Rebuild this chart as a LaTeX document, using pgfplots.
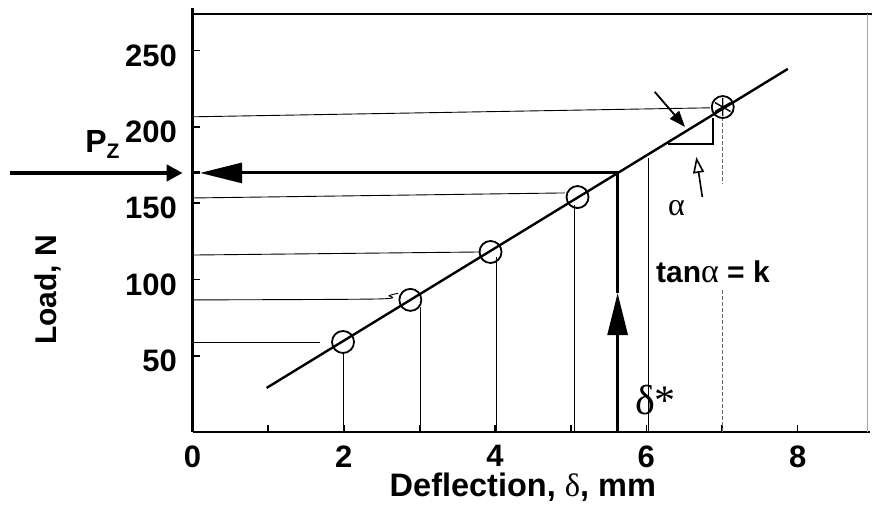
\documentclass[border=0pt]{standalone}
\usepackage{pgfplots}
\pgfplotsset{compat=1.18}
\usepackage{fontspec}
\setmainfont{Liberation Sans}
\newfontfamily\grk{Liberation Serif}
\usetikzlibrary{arrows.meta,calc}
\begin{document}
\begin{tikzpicture}
\begin{axis}[
 scale only axis, width=677pt, height=418pt,
 xmin=0, xmax=8.95, ymin=0, ymax=274,
 axis x line*=bottom, axis y line*=left,
 axis line style={line width=2.4pt, -},
 xtick={0,2,4,6,8}, extra x ticks={1,3,5,7}, extra x tick labels={},
 ytick={50,100,150,200,250},
 tick align=inside, major tick length=7pt,
 tick style={line width=1.6pt, black},
 /pgf/number format/assume math mode=true,
 ticklabel style={font=\fontsize{31}{31}\selectfont\bfseries},
 xticklabel style={yshift=-10pt},
 yticklabel style={xshift=-12pt, yshift=-5pt},
 clip=false,
 xlabel={Deflection, {\grk\mdseries δ}, mm},
 ylabel={Load, N},
 label style={font=\fontsize{30}{30}\selectfont\bfseries},
 xlabel style={font=\fontsize{32.5}{32.5}\selectfont\bfseries, at={(axis description cs:0.488,-0.132)}, anchor=center},
 ylabel style={at={(axis description cs:-0.2135,0.34)}, anchor=center},
]
\coordinate (O) at (rel axis cs:0,0);
% frame top and right
\draw[line width=2.4pt] (rel axis cs:0,1.015) -- (rel axis cs:0,1) -- (rel axis cs:1.003,1);
\draw[line width=1pt, black!35] (rel axis cs:0.997,1) -- (rel axis cs:0.997,0);

% horizontal thin lines from the load axis
\addplot[line width=0.9pt, black] coordinates {(0,58.4) (1.68,58.4)};
\addplot[line width=0.9pt, black, smooth] coordinates {(0,86.6) (2.45,87.2) (2.6,89.5) (2.72,91)};
\addplot[line width=0.9pt, black] coordinates {(0,116) (3.8,118)};
\addplot[line width=0.9pt, black] coordinates {(0,153.4) (4.92,156.7)};
\addplot[line width=0.9pt, black] coordinates {(0,206.6) (6.84,212.5)};

% vertical thin lines to the deflection axis
\addplot[line width=0.9pt, black] coordinates {(1.99,52.5) (1.99,0)};
\addplot[line width=0.9pt, black] coordinates {(3.02,82) (3.02,0)};
\addplot[line width=0.9pt, black] coordinates {(4.02,114.8) (4.02,0)};
\addplot[line width=0.9pt, black] coordinates {(5.05,148.9) (5.05,0)};
\addplot[line width=0.9pt, black] coordinates {(6.03,179.7) (6.03,0)};
\addplot[line width=0.8pt, black!60, dash pattern=on 4pt off 2pt] coordinates {(7.01,206.6) (7.01,163)};
\addplot[line width=0.8pt, black!60, dash pattern=on 4pt off 2pt] coordinates {(7.01,93) (7.01,0)};

% fitted line
\addplot[line width=2.4pt, black] coordinates {(0.98,28.9) (7.87,238)};

% slope triangle
\addplot[line width=1.6pt, black] coordinates {(6.28,188.9) (6.88,188.9) (6.88,205.9)};
\addplot[line width=1.8pt, black, -{Triangle[length=16pt,width=12pt]}] coordinates {(6.11,223) (6.51,200)};
\addplot[line width=1.6pt, black, -{Triangle[open,length=16pt,width=11pt]}] coordinates {(6.74,154) (6.66,180.3)};

% P_z construction
\addplot[line width=3pt, black, -{Triangle[length=42pt,width=20pt]}] coordinates {(5.62,169.8) (0.1,169.8)};
\addplot[line width=3pt, black] coordinates {(0,169.8) (0.1,169.8)};
\addplot[line width=3pt, black, -{Triangle[length=42pt,width=20pt]}] coordinates {(5.62,0) (5.62,91)};
\addplot[line width=3pt, black] coordinates {(5.62,91) (5.62,169.8)};
\addplot[line width=4.5pt, black, -{Triangle[length=16pt,width=16pt]}] coordinates {(-2.41,169.8) (-0.13,169.8)};

% measured points
\addplot[only marks, mark=o, mark size=11pt, mark options={line width=1.8pt}] coordinates {
(1.99,59.0) (2.88,86.6) (3.94,118) (5.09,154) (7.01,213)};
\addplot[only marks, mark=asterisk, mark size=9pt, mark options={line width=1.4pt}] coordinates {(7.01,213)};

% annotations
\node[font=\fontsize{32}{32}\selectfont\bfseries, anchor=base west, inner sep=0pt] at (axis cs:-1.42,183) {P\textsubscript{\fontsize{21}{21}\selectfont\bfseries Z}};
\node[font=\grk\fontsize{32}{32}\selectfont] at (axis cs:6.40,146.9) {α};
\node[font=\fontsize{30}{30}\selectfont\bfseries] at (axis cs:6.88,105) {tan{\grk\mdseries\fontsize{34}{34}\selectfont α} = k};
\node[font=\grk\fontsize{42}{42}\selectfont] at (axis cs:6.12,21) {δ*};
\end{axis}
\pgfresetboundingbox
\path[use as bounding box] ($(O)+(-192.5pt,-76pt)$) rectangle ($(O)+(679.5pt,432pt)$);
\end{tikzpicture}
\end{document}
